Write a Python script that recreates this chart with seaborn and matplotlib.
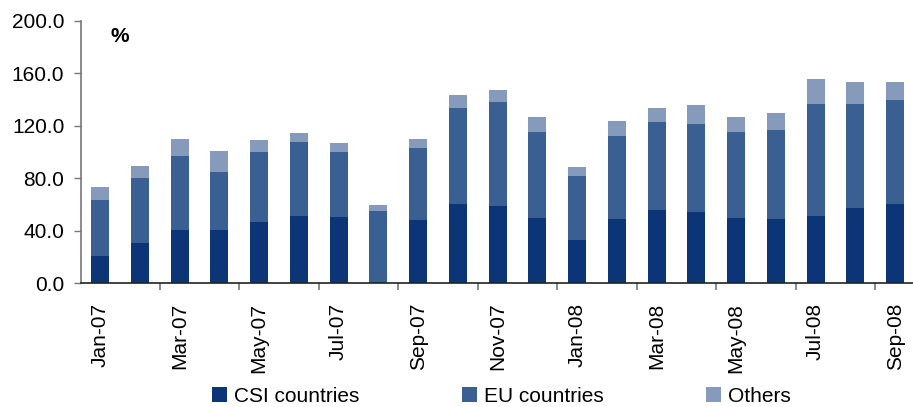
import matplotlib
matplotlib.use("Agg")
import matplotlib.pyplot as plt
from matplotlib.patches import Patch
from matplotlib.ticker import FixedLocator
import seaborn as sns

# monthly values, %
months = ["Jan-07", "Feb-07", "Mar-07", "Apr-07", "May-07", "Jun-07", "Jul-07",
          "Aug-07", "Sep-07", "Oct-07", "Nov-07", "Dec-07", "Jan-08", "Feb-08",
          "Mar-08", "Apr-08", "May-08", "Jun-08", "Jul-08", "Aug-08", "Sep-08"]
csi = [20.8, 30.7, 40.7, 40.7, 46.8, 51.3, 50.6, 0.0, 48.3, 60.5, 59.0,
       49.8, 33.0, 49.0, 55.9, 54.4, 49.8, 49.0, 51.3, 57.4, 60.5]
eu = [42.7, 49.6, 56.4, 44.2, 53.3, 56.5, 49.5, 55.1, 54.9, 73.2, 79.2,
      65.6, 48.8, 63.3, 67.1, 67.1, 65.6, 67.9, 85.4, 79.3, 79.3]
others = [9.9, 9.2, 12.9, 16.0, 9.2, 6.8, 6.9, 4.6, 6.8, 9.9, 9.2,
          11.4, 6.9, 11.5, 10.7, 14.5, 11.4, 13.0, 19.1, 16.8, 13.7]

c_csi = "#0B3577"
c_eu = "#3A5F93"
c_oth = "#869BBB"

plt.rcParams["font.family"] = ["Liberation Sans", "DejaVu Sans"]

fig = plt.figure(figsize=(9.13, 4.07), dpi=100)
ax = fig.add_axes([81 / 913, (407 - 283.3) / 407, 1 - 81 / 913, (283.3 - 21) / 407])

# stacked bars drawn as overlapping cumulative totals
csi_eu = [a + b for a, b in zip(csi, eu)]
total = [a + b for a, b in zip(csi_eu, others)]
sns.barplot(x=months, y=total, color=c_oth, width=0.45, saturation=1, ax=ax)
sns.barplot(x=months, y=csi_eu, color=c_eu, width=0.45, saturation=1, ax=ax)
sns.barplot(x=months, y=csi, color=c_csi, width=0.45, saturation=1, ax=ax)
for p in ax.patches:
    p.set_linewidth(0)

ax.set_ylim(0, 200)
ax.set_yticks(range(0, 201, 40))
ax.set_yticklabels([f"{v:.1f}" for v in range(0, 201, 40)], fontsize=15)
ax.set_xlim(-0.48, 20.45)
ax.set_xticks(range(0, len(months), 2))
ax.set_xticklabels(months[::2], rotation=90, fontsize=15)
ax.xaxis.set_minor_locator(FixedLocator([i - 0.5 for i in range(0, len(months), 2)]))
ax.tick_params(axis="x", which="major", length=0, pad=14)
ax.tick_params(axis="x", which="minor", length=5, width=1.2, color="#777777")
ax.tick_params(axis="y", length=5, width=1, color="#777777", pad=7)
ax.set_xlabel("")
ax.set_ylabel("")

for s in ["top", "right"]:
    ax.spines[s].set_visible(False)
ax.spines["left"].set_color("#777777")
ax.spines["left"].set_linewidth(1.2)
ax.spines["bottom"].set_color("#222222")
ax.spines["bottom"].set_linewidth(1.2)

ax.text(110 / 913, (407 - 37) / 407, "%", transform=fig.transFigure,
        fontsize=15, fontweight="bold", va="center", ha="left")

# legend entries placed like the original
entries = [("CSI countries", c_csi, 212), ("EU countries", c_eu, 462), ("Others", c_oth, 706)]
for name, col, xpx in entries:
    fig.legend(handles=[Patch(facecolor=col, edgecolor="none", label=name)],
               loc="center left", bbox_to_anchor=(xpx / 913, 10.5 / 407),
               frameon=False, fontsize=15, handlelength=0.7, handleheight=0.7,
               handletextpad=0.35, borderpad=0, borderaxespad=0)

fig.savefig("out.png", dpi=100)
